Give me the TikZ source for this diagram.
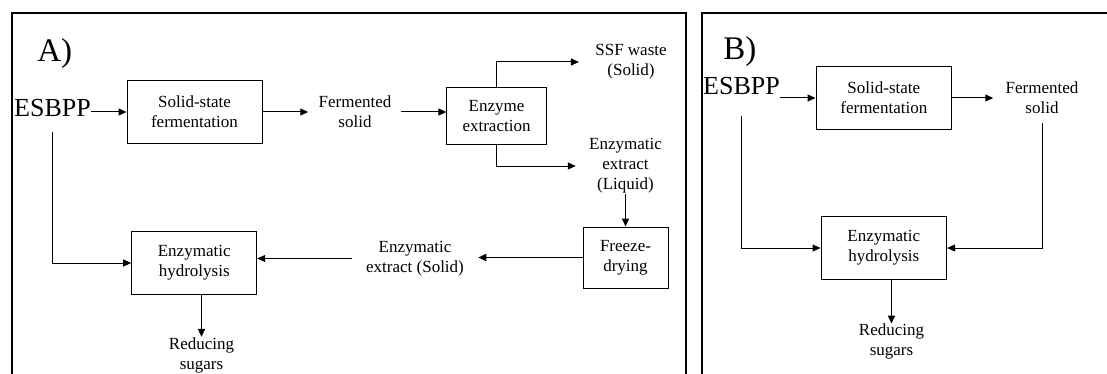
\documentclass[tikz,border=0pt]{standalone}
\usepackage{fontspec}
\setmainfont{Liberation Serif}
\usetikzlibrary{arrows.meta}
\begin{document}
\begin{tikzpicture}[x=0.5pt,y=-0.5pt,
  procbox/.style={draw=black, line width=0.5pt, inner sep=0pt, align=center, font=\fontsize{8.5}{10}\selectfont},
  txt/.style={inner sep=0pt, align=center, font=\fontsize{8.5}{10}\selectfont},
  big/.style={inner sep=0pt, anchor=base, font=\fontsize{13}{14}\selectfont},
  panellabel/.style={inner sep=0pt, anchor=base west, font=\fontsize{16.5}{18}\selectfont},
  arr/.style={line width=0.5pt, -{Triangle[length=4pt,width=3.5pt]}},
  heavy/.style={line width=0.8pt},
  frame/.style={line width=1pt}
]
\useasboundingbox (0,0) rectangle (1107,374);

% frames
\draw[frame] (12,374) -- (12,13) -- (685.7,13) -- (685.7,374);
\draw[frame] (701.7,374) -- (701.7,13) -- (1107,13);

% ---------- Panel A ----------
\node[panellabel] (labA) at (37,62) {A)};
\node[big] (esbA) at (52.5,117) {ESBPP};
\node[procbox, minimum width=67.5pt, minimum height=31pt] (ssfA) at (194.5,112) {Solid-state\\fermentation};
\node[txt] (fermA) at (355,112) {Fermented\\solid};
\node[procbox, minimum width=49.6pt, minimum height=28pt] (eeA) at (496.5,116) {Enzyme\\extraction};
\node[txt] (ssfw) at (631,62) {SSF waste\\(Solid)};
\node[txt] (liqA) at (625.5,166) {Enzymatic\\extract\\(Liquid)};
\node[procbox, minimum width=42.5pt, minimum height=30.5pt] (fdA) at (625.5,257.5) {Freeze-\\drying};
\node[txt] (solA) at (415,258.5) {Enzymatic\\extract (Solid)};
\node[procbox, minimum width=62.5pt, minimum height=31.2pt] (hydA) at (194.2,263) {Enzymatic\\hydrolysis};
\node[txt] (redA) at (201.5,355) {Reducing\\sugars};

\draw[arr] (esbA.east |- ssfA.west) -- (ssfA.west);
\draw[arr, shorten >=5pt] (ssfA.east) -- (ssfA.east -| fermA.west);
\draw[arr, shorten <=4.5pt] (fermA.east) -- (fermA.east -| eeA.west);
\draw[arr, shorten >=8pt] (eeA.north) |- (ssfw.west);
\draw[arr, shorten >=6.5pt] (eeA.south) |- (liqA.west);
\draw[arr, heavy] (liqA.south -| fdA.north) -- (fdA.north);
\draw[arr, heavy, shorten >=7pt] (fdA.west) -- (fdA.west -| solA.east);
\draw[arr, shorten <=7pt] (solA.west) -- (solA.west -| hydA.east);
\draw[arr, shorten <=7pt] (esbA.south) |- (hydA.west);
\draw[arr, heavy] (hydA.south -| redA.north) -- (redA.north);

% ---------- Panel B ----------
\node[panellabel] (labB) at (723,60) {B)};
\node[big] (esbB) at (741.5,95) {ESBPP};
\node[procbox, minimum width=67.8pt, minimum height=31.2pt] (ssfB) at (883.8,98) {Solid-state\\fermentation};
\node[txt] (fermB) at (1042,98) {Fermented\\solid};
\node[procbox, minimum width=62.8pt, minimum height=31.3pt] (hydB) at (883.8,248) {Enzymatic\\hydrolysis};
\node[txt] (redB) at (891.5,341.7) {Reducing\\sugars};

\draw[arr] (esbB.east |- ssfB.west) -- (ssfB.west);
\draw[arr, shorten >=6pt] (ssfB.east) -- (ssfB.east -| fermB.west);
\draw[arr, shorten <=4.5pt] (fermB.south) |- (hydB.east);
\draw[arr, shorten <=10pt] (esbB.south) |- (hydB.west);
\draw[arr, heavy] (hydB.south -| redB.north) -- (redB.north);
\end{tikzpicture}
\end{document}
